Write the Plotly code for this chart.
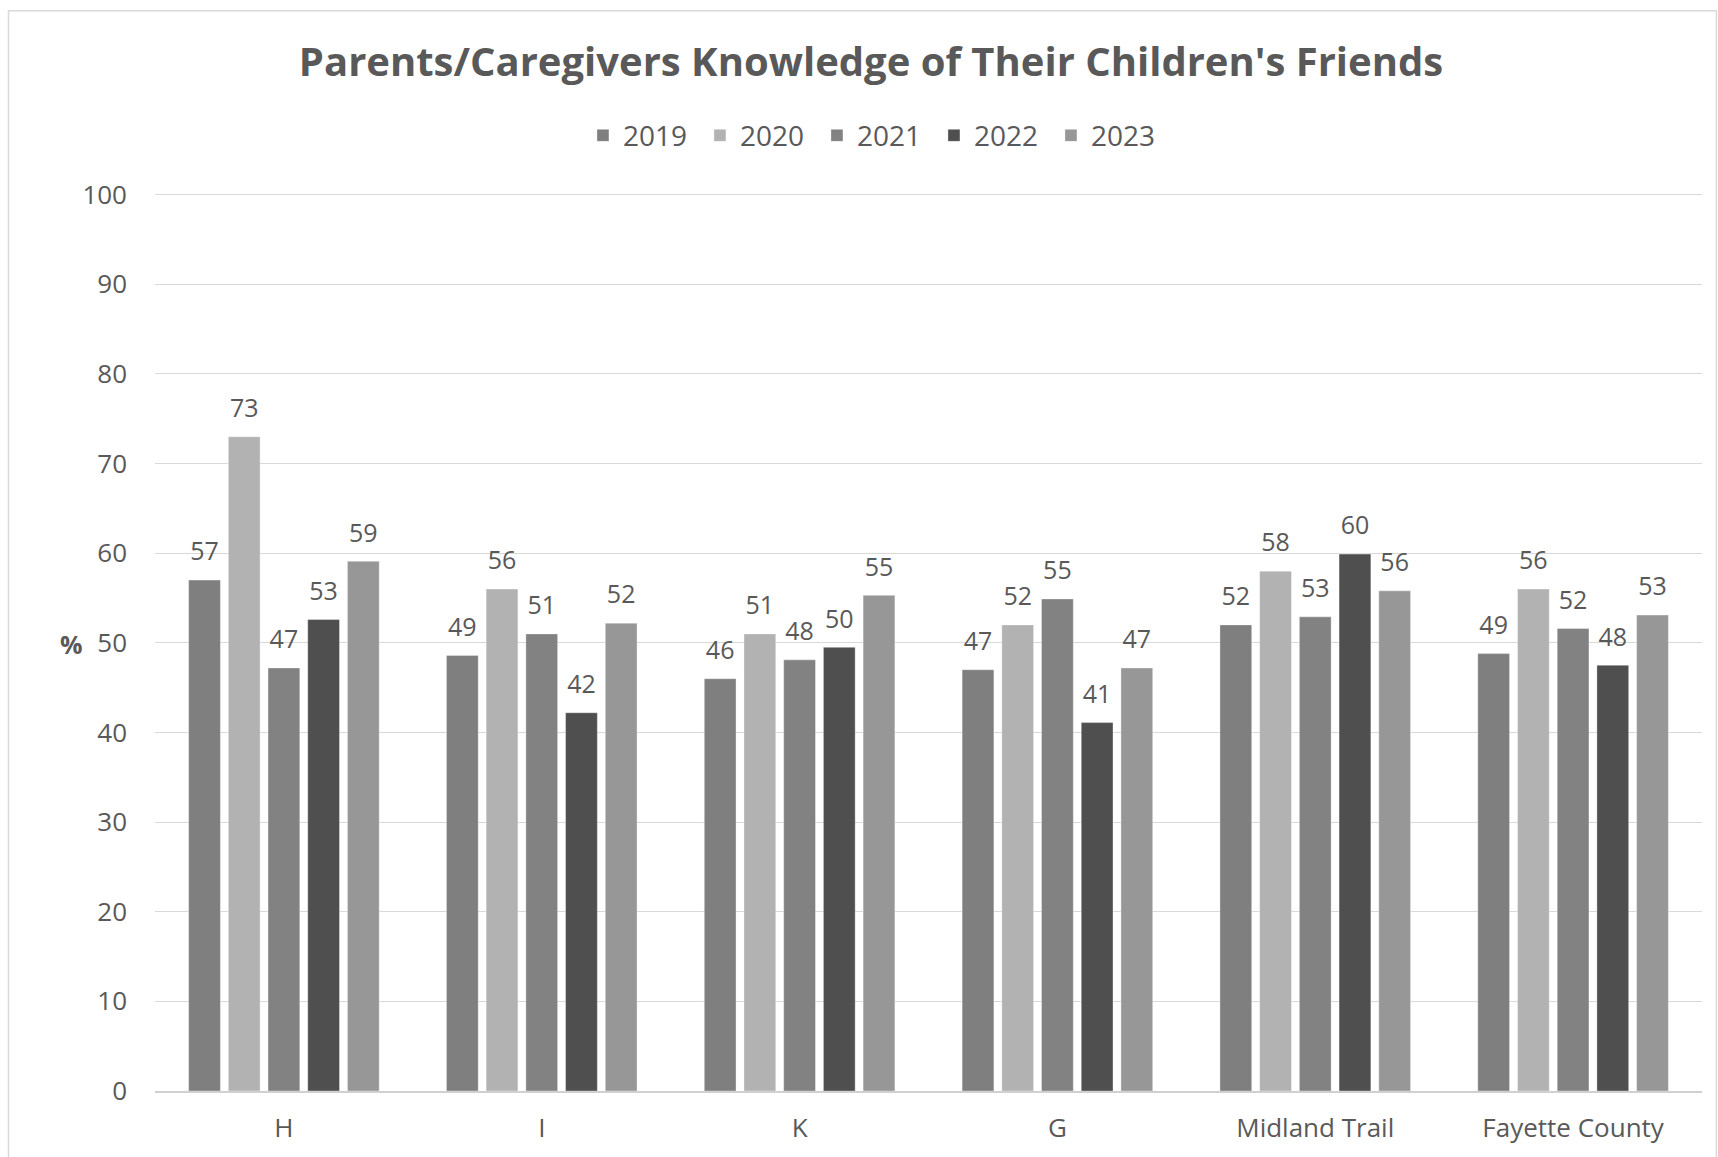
import plotly.graph_objects as go

categories = ["H", "I", "K", "G", "Midland Trail", "Fayette County"]
years = ["2019", "2020", "2021", "2022", "2023"]
v2019 = [57.0, 48.6, 46.0, 47.0, 52.0, 48.8]
v2020 = [73.0, 56.0, 51.0, 52.0, 58.0, 56.0]
v2021 = [47.2, 51.0, 48.1, 54.9, 52.9, 51.6]
v2022 = [52.6, 42.2, 49.5, 41.1, 59.9, 47.5]
v2023 = [59.1, 52.2, 55.3, 47.2, 55.8, 53.1]
series = [v2019, v2020, v2021, v2022, v2023]
colors = ["#7f7f7f", "#b2b2b2", "#828282", "#4f4f4f", "#979797"]

FONT = "Open Sans"
TXT = "#595959"

fig = go.Figure()
for yr, vals, col in zip(years, series, colors):
    fig.add_trace(go.Bar(
        name=yr, x=categories, y=vals, offsetgroup=yr,
        marker=dict(color=col, line=dict(color="rgba(255,255,255,0.35)", width=1)),
    ))
for yr, vals in zip(years, series):
    fig.add_trace(go.Scatter(
        x=categories, y=vals, mode="markers+text", offsetgroup=yr,
        marker=dict(size=20, opacity=0),
        text=[f"{v:.0f}" for v in vals], textposition="top center",
        textfont=dict(family=FONT, size=25, color=TXT),
        cliponaxis=False, showlegend=False, hoverinfo="skip",
    ))

YMAX = 100.3
# plot area: x 154.5..1701.6, y 0 at 1091, 100 at 195 (px)
L, R, B = 154.5, 1718 - 1701.6, 1157 - 1091
unit = (1091 - 195) / 100.0
T = 195 - (YMAX - 100) * unit
pw, ph = 1718 - L - R, 1157 - T - B

def px(x):
    return (x - L) / pw

def py(y):
    return (1157 - B - y) / ph

fig.update_layout(
    width=1718, height=1157,
    margin=dict(l=L, r=R, t=T, b=B, autoexpand=False),
    paper_bgcolor="white", plot_bgcolor="white",
    barmode="group", bargap=0.23, bargroupgap=0.2,
    scattermode="group", scattergap=0.23,
    font=dict(family=FONT, color=TXT),
    title=dict(text="<b>Parents/Caregivers Knowledge of Their Children's Friends</b>",
               x=871 / 1718, xanchor="center", y=1 - 62 / 1157, yanchor="middle",
               font=dict(family=FONT, size=40, color=TXT)),
    legend=dict(orientation="h", x=px(875), xanchor="center", y=py(136), yanchor="middle",
                font=dict(family=FONT, size=28, color=TXT),
                entrywidth=72, entrywidthmode="pixels", traceorder="normal",
                itemclick=False),
    showlegend=True,
    xaxis=dict(showgrid=False, showline=True, linecolor="#d0d0d0", linewidth=2,
               tickfont=dict(family=FONT, size=26, color=TXT), ticks="",
               ticklabelstandoff=13, automargin=False),
    yaxis=dict(range=[0, YMAX], tickvals=list(range(0, 101, 10)), showgrid=True,
               gridcolor="#d9d9d9", gridwidth=1,
               zeroline=False, showline=False, ticks="", automargin=False,
               tickfont=dict(family=FONT, size=26, color=TXT), ticklabelstandoff=27),
    annotations=[dict(text="<b>%</b>", x=px(57), y=py(644), xref="paper", yref="paper",
                      showarrow=False, font=dict(family=FONT, size=25, color=TXT))],
    shapes=[dict(type="rect", xref="paper", yref="paper",
                 x0=px(8), x1=px(1716), y0=py(1165), y1=py(11),
                 line=dict(color="#d9d9d9", width=1.5), fillcolor="rgba(0,0,0,0)", layer="below")],
)

fig.write_html("out.html", config={"displayModeBar": False},
               post_script="document.body.style.margin='0';")
